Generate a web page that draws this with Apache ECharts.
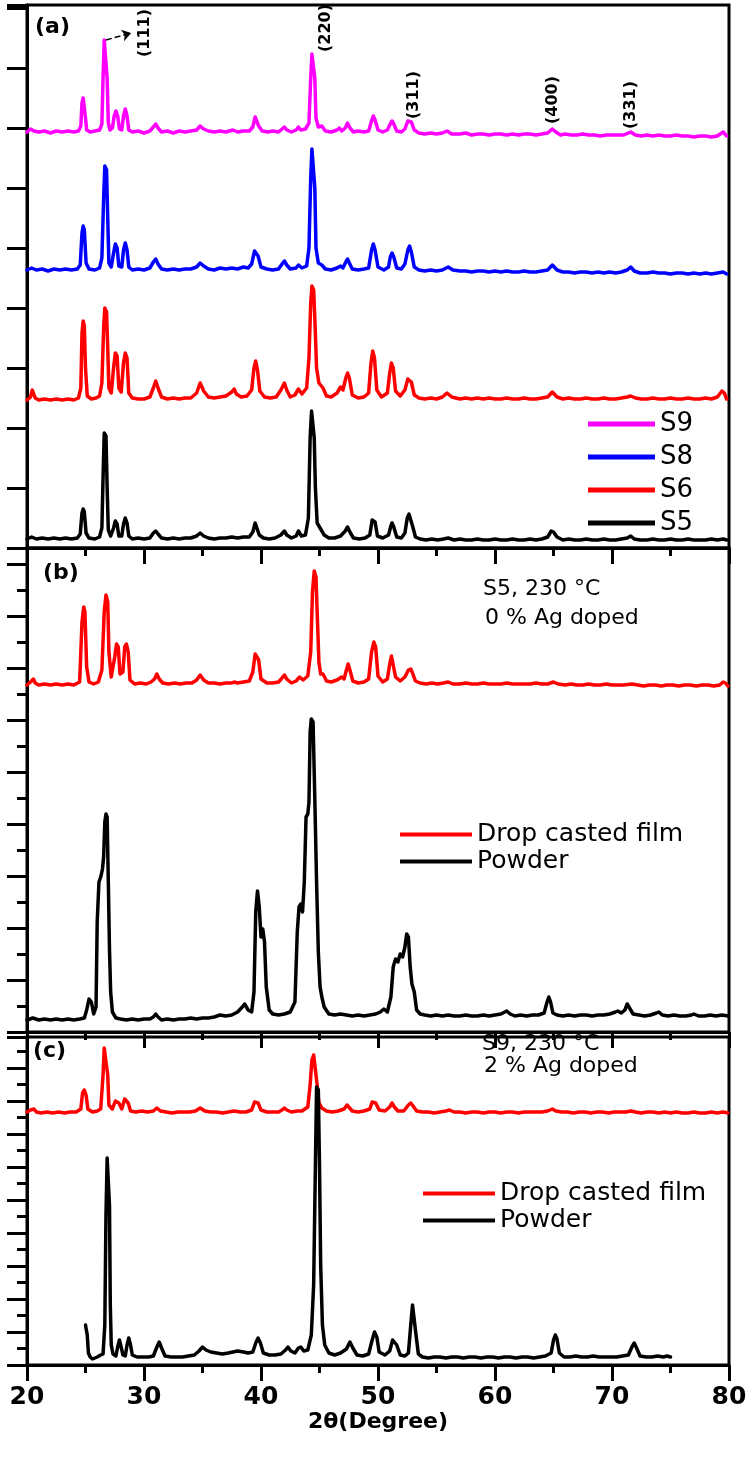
<!DOCTYPE html>
<html>
<head>
<meta charset="utf-8">
<script src="https://cdn.jsdelivr.net/npm/echarts@6/dist/echarts.min.js"></script>
<style>html,body{margin:0;padding:0;background:#fff}#c{width:750px;height:1469px}</style>
</head>
<body>
<div id="c"></div>
<script>
// ---- data (2θ in degrees, intensity in arbitrary units, per panel) ----
const xTicks = [20, 30, 40, 50, 60, 70, 80];
const seriesNamesA = ['S9', 'S8', 'S6', 'S5'];
const seriesNamesBC = ['Drop casted film', 'Powder'];
const peakIndices = ['(111)', '(220)', '(311)', '(400)', '(331)'];

const S9 = [[20.0,416],[20.3,419],[20.6,417],[21.0,416],[21.5,417],[22.0,415],[22.5,417],[23.0,416],[23.5,417],[24.0,416],[24.4,417],[24.6,422],[24.7,445],[24.8,450],[24.9,448],[25.0,430],[25.1,418],[25.4,416],[25.8,417],[26.2,418],[26.4,424],[26.5,470],[26.6,508],[26.75,506],[26.85,470],[26.95,425],[27.1,418],[27.3,420],[27.45,432],[27.6,437],[27.75,432],[27.9,419],[28.1,418],[28.25,432],[28.4,439],[28.55,432],[28.7,418],[29.0,416],[29.5,417],[30.0,415],[30.5,417],[30.8,421],[31.0,424],[31.2,420],[31.5,416],[32.0,417],[32.5,415],[33.0,417],[33.5,416],[34.0,417],[34.5,418],[34.8,422],[35.1,419],[35.5,417],[36.0,416],[36.5,417],[37.0,416],[37.6,418],[38.0,416],[38.5,417],[39.0,417],[39.3,421],[39.5,431],[39.65,432],[39.8,422],[40.1,417],[40.6,416],[41.0,417],[41.5,416],[41.8,419],[42.0,421],[42.2,418],[42.6,416],[43.0,418],[43.2,421],[43.4,418],[43.8,419],[44.1,425],[44.25,470],[44.35,494],[44.5,493],[44.6,470],[44.7,430],[44.9,421],[45.2,422],[45.5,417],[46.0,416],[46.5,418],[46.7,420],[46.9,417],[47.2,420],[47.4,425],[47.6,420],[47.9,416],[48.3,417],[48.8,416],[49.2,417],[49.45,427],[49.6,432],[49.75,428],[50.0,418],[50.4,416],[50.8,418],[51.05,424],[51.2,427],[51.35,424],[51.6,417],[52.0,416],[52.3,419],[52.55,427],[52.7,429],[52.85,426],[53.1,418],[53.5,415],[54.0,414],[54.5,415],[55.0,414],[55.5,415],[55.9,417],[56.3,414],[57.0,414],[57.5,415],[58.0,413],[58.5,414],[59.0,414],[59.5,413],[60.0,414],[60.5,414],[61.0,413],[61.5,414],[62.0,413],[62.5,414],[63.0,414],[63.5,413],[64.0,414],[64.5,415],[64.9,419],[65.2,416],[65.6,413],[66.0,414],[66.5,413],[67.0,413],[67.5,414],[68.0,413],[68.5,413],[69.0,412],[69.5,413],[70.0,413],[70.5,413],[71.0,413],[71.6,416],[72.0,413],[72.5,412],[73.0,413],[73.5,412],[74.0,413],[74.5,412],[75.0,412],[75.5,413],[76.0,412],[76.5,412],[77.0,411],[77.5,412],[78.0,412],[78.5,411],[79.0,412],[79.5,416],[79.8,412]];

const S8 = [[20.0,278],[20.4,280],[20.8,278],[21.3,279],[21.8,277],[22.3,279],[22.8,278],[23.3,279],[23.8,278],[24.3,279],[24.55,283],[24.7,315],[24.8,322],[24.9,318],[25.05,285],[25.3,279],[25.8,278],[26.2,280],[26.4,290],[26.55,350],[26.65,382],[26.8,378],[26.9,330],[27.0,285],[27.2,281],[27.4,295],[27.55,304],[27.7,300],[27.85,282],[28.1,281],[28.25,298],[28.4,305],[28.55,298],[28.7,281],[29.0,278],[29.5,279],[30.0,278],[30.5,280],[30.8,286],[31.0,289],[31.2,284],[31.5,279],[32.0,278],[32.5,279],[33.0,278],[33.5,279],[34.0,279],[34.5,281],[34.8,285],[35.1,282],[35.5,279],[36.0,278],[36.5,280],[37.0,279],[37.5,280],[38.0,279],[38.5,281],[38.9,280],[39.2,284],[39.45,297],[39.6,299],[39.75,292],[40.0,281],[40.5,279],[41.0,278],[41.5,279],[41.8,284],[42.0,287],[42.2,283],[42.5,279],[43.0,280],[43.2,283],[43.5,280],[43.9,282],[44.1,300],[44.25,370],[44.35,399],[44.5,397],[44.6,360],[44.7,300],[44.9,285],[45.2,283],[45.5,279],[46.0,278],[46.5,280],[46.8,282],[47.0,280],[47.25,286],[47.4,289],[47.55,285],[47.8,279],[48.3,278],[48.8,279],[49.2,280],[49.45,298],[49.6,304],[49.75,298],[50.0,281],[50.5,278],[50.9,281],[51.05,291],[51.2,295],[51.35,291],[51.6,280],[52.0,279],[52.3,284],[52.55,298],[52.7,302],[52.85,296],[53.1,281],[53.5,278],[54.0,277],[54.5,278],[55.0,277],[55.5,278],[56.0,281],[56.4,278],[57.0,277],[57.5,277],[58.0,276],[58.5,277],[59.0,277],[59.5,276],[60.0,277],[60.5,276],[61.0,277],[61.5,276],[62.0,276],[62.5,277],[63.0,276],[63.5,276],[64.0,277],[64.5,278],[64.9,283],[65.3,278],[65.8,276],[66.3,276],[66.8,275],[67.3,276],[67.8,276],[68.3,275],[68.8,276],[69.3,275],[69.8,276],[70.3,275],[70.8,276],[71.3,278],[71.6,281],[71.9,277],[72.4,275],[73.0,275],[73.5,276],[74.0,275],[74.5,275],[75.0,274],[75.5,275],[76.0,275],[76.5,274],[77.0,275],[77.5,274],[78.0,275],[78.5,274],[79.0,275],[79.5,276],[79.8,274]];

const S6 = [[20.0,148],[20.3,151],[20.45,158],[20.55,159],[20.7,150],[21.0,148],[21.5,149],[22.0,148],[22.5,149],[23.0,148],[23.5,149],[24.0,148],[24.4,150],[24.6,160],[24.7,215],[24.8,227],[24.9,222],[25.0,180],[25.15,152],[25.5,149],[25.9,150],[26.2,152],[26.4,165],[26.55,220],[26.65,240],[26.8,236],[26.9,200],[27.0,160],[27.2,155],[27.4,180],[27.55,195],[27.7,192],[27.85,160],[28.05,156],[28.25,185],[28.4,195],[28.55,190],[28.7,155],[29.0,150],[29.5,149],[30.0,149],[30.5,151],[30.8,160],[31.0,167],[31.2,160],[31.5,151],[32.0,149],[32.5,150],[33.0,149],[33.5,150],[34.0,150],[34.5,155],[34.8,165],[35.1,157],[35.5,151],[36.0,150],[36.5,151],[37.0,152],[37.5,156],[37.7,159],[37.9,154],[38.3,151],[38.8,152],[39.2,158],[39.4,180],[39.55,187],[39.7,178],[39.9,157],[40.3,151],[40.8,150],[41.3,151],[41.7,158],[42.0,165],[42.2,158],[42.5,151],[42.9,153],[43.2,159],[43.5,154],[43.9,160],[44.1,190],[44.25,245],[44.35,262],[44.5,258],[44.6,230],[44.75,180],[44.95,165],[45.1,167],[45.3,160],[45.6,152],[46.0,151],[46.5,155],[46.8,161],[47.0,158],[47.25,170],[47.4,175],[47.55,170],[47.8,153],[48.3,150],[48.8,151],[49.2,155],[49.4,185],[49.55,197],[49.7,190],[49.9,158],[50.3,151],[50.8,155],[51.0,175],[51.15,185],[51.3,180],[51.5,157],[51.9,152],[52.3,158],[52.55,169],[52.7,171],[52.85,166],[53.1,153],[53.5,150],[54.0,149],[54.5,150],[55.0,149],[55.5,151],[55.9,155],[56.3,151],[57.0,149],[57.5,150],[58.0,149],[58.5,150],[59.0,149],[59.5,150],[60.0,149],[60.5,149],[61.0,150],[61.5,149],[62.0,149],[62.5,150],[63.0,149],[63.5,149],[64.0,150],[64.5,151],[64.9,156],[65.3,151],[65.8,149],[66.3,150],[66.8,149],[67.3,149],[67.8,150],[68.3,149],[68.8,149],[69.3,150],[69.8,149],[70.3,149],[70.8,150],[71.3,151],[71.6,152],[72.0,150],[72.5,149],[73.0,149],[73.5,150],[74.0,149],[74.5,149],[75.0,150],[75.5,149],[76.0,149],[76.5,150],[77.0,149],[77.5,149],[78.0,150],[78.5,149],[79.0,151],[79.4,157],[79.6,155],[79.8,149]];

const S5 = [[20.0,9],[20.4,11],[20.8,9],[21.3,10],[21.8,9],[22.3,10],[22.8,9],[23.3,10],[23.8,9],[24.3,10],[24.55,14],[24.7,35],[24.8,39],[24.9,36],[25.05,15],[25.3,10],[25.8,9],[26.2,11],[26.4,20],[26.5,70],[26.6,115],[26.75,112],[26.85,60],[26.95,18],[27.15,12],[27.4,20],[27.55,27],[27.7,24],[27.85,12],[28.1,12],[28.25,24],[28.4,30],[28.55,25],[28.7,12],[29.0,9],[29.5,10],[30.0,9],[30.5,10],[30.8,15],[31.0,17],[31.2,14],[31.5,10],[32.0,9],[32.5,10],[33.0,9],[33.5,10],[34.0,10],[34.5,12],[34.8,15],[35.1,12],[35.5,10],[36.0,9],[36.5,10],[37.0,10],[37.5,11],[38.0,10],[38.5,11],[39.0,11],[39.3,16],[39.5,25],[39.65,24],[39.85,13],[40.2,10],[40.7,9],[41.2,10],[41.7,13],[42.0,17],[42.2,13],[42.6,10],[43.0,12],[43.2,17],[43.45,12],[43.8,13],[44.05,30],[44.2,110],[44.32,137],[44.45,135],[44.55,110],[44.65,60],[44.8,25],[45.1,19],[45.4,13],[45.8,10],[46.3,10],[46.8,12],[47.2,17],[47.4,21],[47.6,16],[47.9,10],[48.4,9],[48.9,10],[49.3,13],[49.5,28],[49.6,30],[49.75,26],[49.95,12],[50.4,10],[50.9,13],[51.1,22],[51.2,25],[51.35,21],[51.6,11],[52.0,10],[52.3,15],[52.5,30],[52.65,34],[52.8,32],[53.0,20],[53.2,11],[53.6,9],[54.1,8],[54.6,9],[55.1,8],[55.6,9],[56.0,10],[56.5,8],[57.0,9],[57.5,8],[58.0,8],[58.5,9],[59.0,8],[59.5,8],[60.0,9],[60.5,8],[61.0,8],[61.5,9],[62.0,8],[62.5,8],[63.0,9],[63.5,8],[64.0,9],[64.5,11],[64.8,17],[65.0,16],[65.3,11],[65.8,8],[66.3,9],[66.8,8],[67.3,8],[67.8,9],[68.3,8],[68.8,8],[69.3,9],[69.8,8],[70.3,8],[70.8,9],[71.3,10],[71.6,12],[71.9,9],[72.4,8],[73.0,8],[73.5,9],[74.0,8],[74.5,8],[75.0,9],[75.5,8],[76.0,8],[76.5,9],[77.0,8],[77.5,8],[78.0,8],[78.5,9],[79.0,8],[79.5,9],[79.8,8]];

const filmB = [[20.0,347],[20.3,350],[20.45,352],[20.55,353],[20.7,349],[21.0,347],[21.5,348],[22.0,347],[22.5,348],[23.0,347],[23.5,348],[24.0,347],[24.5,350],[24.7,410],[24.85,425],[24.95,420],[25.1,365],[25.3,350],[25.7,348],[26.1,350],[26.4,362],[26.6,420],[26.75,437],[26.9,430],[27.0,380],[27.2,355],[27.5,375],[27.65,388],[27.8,385],[27.95,358],[28.2,360],[28.35,385],[28.5,388],[28.65,380],[28.8,352],[29.2,348],[29.7,349],[30.2,348],[30.6,350],[30.9,353],[31.1,358],[31.3,353],[31.6,349],[32.1,348],[32.6,349],[33.1,348],[33.6,349],[34.1,349],[34.5,352],[34.8,357],[35.1,352],[35.5,349],[36.0,349],[36.5,348],[37.0,349],[37.5,349],[37.7,350],[38.0,349],[38.5,350],[39.0,351],[39.3,360],[39.5,378],[39.65,380],[39.8,372],[40.0,353],[40.5,349],[41.0,349],[41.5,350],[41.8,354],[42.0,357],[42.2,353],[42.6,349],[43.0,351],[43.3,355],[43.6,352],[44.0,356],[44.25,380],[44.4,440],[44.55,461],[44.7,455],[44.8,420],[44.95,370],[45.1,358],[45.3,358],[45.6,351],[46.0,350],[46.5,352],[46.9,355],[47.1,353],[47.3,362],[47.45,368],[47.6,362],[47.85,351],[48.3,349],[48.8,350],[49.2,353],[49.45,380],[49.65,390],[49.8,385],[50.0,356],[50.4,350],[50.8,353],[51.0,368],[51.15,376],[51.3,374],[51.5,355],[51.9,351],[52.3,355],[52.6,362],[52.8,363],[52.95,359],[53.2,351],[53.6,349],[54.1,348],[54.6,349],[55.1,348],[55.6,349],[56.0,350],[56.4,348],[57.0,348],[57.5,349],[58.0,348],[58.5,348],[59.0,349],[59.5,348],[60.0,348],[60.5,348],[61.0,349],[61.5,348],[62.0,348],[62.5,348],[63.0,348],[63.5,349],[64.0,348],[64.5,348],[65.0,350],[65.4,348],[66.0,347],[66.5,348],[67.0,347],[67.5,347],[68.0,348],[68.5,347],[69.0,347],[69.5,348],[70.0,347],[70.5,347],[71.0,347],[71.7,348],[72.2,347],[72.7,346],[73.2,347],[73.7,347],[74.2,346],[74.7,347],[75.2,347],[75.7,346],[76.2,347],[76.7,347],[77.2,346],[77.7,347],[78.2,347],[78.7,346],[79.2,347],[79.5,350],[79.7,349],[79.9,346]];

const powderB = [[20.0,12],[20.5,14],[21.0,12],[21.5,13],[22.0,12],[22.5,13],[23.0,12],[23.5,13],[24.0,12],[24.5,13],[24.9,14],[25.1,22],[25.3,33],[25.5,30],[25.7,18],[25.9,25],[26.0,110],[26.15,150],[26.3,155],[26.45,163],[26.55,175],[26.65,210],[26.75,218],[26.85,215],[26.95,150],[27.05,83],[27.15,40],[27.3,20],[27.6,14],[28.0,13],[28.5,12],[29.0,13],[29.5,12],[30.0,13],[30.5,13],[30.8,15],[31.0,18],[31.2,15],[31.5,12],[32.0,13],[32.5,12],[33.0,13],[33.5,13],[34.0,14],[34.5,13],[35.0,14],[35.5,14],[36.0,15],[36.5,17],[37.0,16],[37.5,17],[38.0,20],[38.4,25],[38.6,28],[38.9,22],[39.2,20],[39.4,40],[39.55,120],[39.7,141],[39.85,125],[40.0,95],[40.15,103],[40.3,90],[40.45,45],[40.7,22],[41.0,18],[41.5,17],[42.0,18],[42.5,20],[42.9,30],[43.1,100],[43.25,125],[43.4,128],[43.55,120],[43.7,150],[43.85,215],[44.0,218],[44.1,230],[44.2,300],[44.3,313],[44.45,310],[44.6,233],[44.75,150],[44.9,80],[45.05,45],[45.2,35],[45.4,25],[45.8,18],[46.3,17],[46.8,18],[47.3,17],[47.8,16],[48.3,17],[48.8,16],[49.3,17],[49.8,18],[50.2,20],[50.5,23],[50.8,20],[51.1,35],[51.3,65],[51.5,73],[51.7,70],[51.9,78],[52.1,75],[52.3,85],[52.45,98],[52.6,95],[52.75,65],[52.9,48],[53.1,40],[53.3,22],[53.6,18],[54.0,17],[54.5,16],[55.0,17],[55.5,16],[56.0,17],[56.5,16],[57.0,16],[57.5,17],[58.0,16],[58.5,16],[59.0,17],[59.5,16],[60.0,17],[60.5,18],[61.0,21],[61.3,18],[61.7,16],[62.2,17],[62.7,16],[63.2,17],[63.7,17],[64.2,19],[64.45,30],[64.6,35],[64.75,30],[64.95,19],[65.3,17],[65.8,16],[66.3,17],[66.8,16],[67.3,17],[67.8,17],[68.3,16],[68.8,17],[69.3,17],[69.8,18],[70.3,20],[70.5,21],[70.8,19],[71.1,22],[71.3,28],[71.5,24],[71.8,18],[72.3,17],[72.8,16],[73.3,17],[73.8,19],[74.0,20],[74.3,17],[74.8,16],[75.3,17],[75.8,16],[76.3,16],[76.8,17],[77.0,18],[77.4,16],[77.9,16],[78.4,17],[78.9,16],[79.4,17],[79.9,16]];

const filmC = [[20.0,253],[20.3,255],[20.45,257],[20.6,256],[20.8,253],[21.2,252],[21.7,253],[22.2,252],[22.7,253],[23.2,252],[23.7,253],[24.2,253],[24.6,256],[24.75,272],[24.9,275],[25.05,270],[25.2,256],[25.6,253],[26.0,254],[26.3,256],[26.5,290],[26.6,317],[26.75,315],[26.9,290],[27.0,260],[27.3,256],[27.55,264],[27.7,265],[27.85,262],[28.1,256],[28.35,266],[28.5,267],[28.65,262],[28.85,254],[29.3,253],[29.8,254],[30.3,253],[30.8,254],[31.1,257],[31.4,254],[31.9,253],[32.4,252],[32.9,253],[33.4,253],[33.9,253],[34.4,254],[34.8,257],[35.2,254],[35.7,253],[36.2,253],[36.7,252],[37.2,253],[37.7,254],[38.2,253],[38.7,253],[39.2,255],[39.45,263],[39.6,265],[39.75,262],[40.0,255],[40.5,253],[41.0,253],[41.5,253],[41.8,255],[42.0,257],[42.2,255],[42.6,253],[43.1,254],[43.5,254],[44.0,258],[44.2,280],[44.35,305],[44.5,310],[44.65,308],[44.8,280],[44.95,262],[45.2,257],[45.6,254],[46.1,253],[46.6,254],[47.1,256],[47.35,260],[47.5,259],[47.8,254],[48.3,253],[48.8,254],[49.3,256],[49.5,263],[49.65,265],[49.8,262],[50.1,255],[50.6,254],[51.0,258],[51.2,262],[51.4,258],[51.7,254],[52.2,254],[52.6,260],[52.8,262],[53.0,259],[53.3,254],[53.8,253],[54.3,253],[54.8,252],[55.3,253],[55.8,254],[56.1,255],[56.5,253],[57.0,253],[57.5,252],[58.0,253],[58.5,253],[59.0,252],[59.5,253],[60.0,253],[60.5,252],[61.0,253],[61.5,253],[62.0,252],[62.5,253],[63.0,253],[63.5,253],[64.0,253],[64.5,254],[64.9,256],[65.2,254],[65.7,253],[66.2,253],[66.7,252],[67.2,253],[67.7,253],[68.2,252],[68.7,253],[69.2,253],[69.7,252],[70.2,253],[70.7,253],[71.2,253],[71.6,254],[72.0,253],[72.5,252],[73.0,253],[73.5,253],[74.0,252],[74.5,253],[75.0,252],[75.5,253],[76.0,252],[76.5,252],[77.0,253],[77.5,252],[78.0,252],[78.5,253],[79.0,252],[79.5,253],[79.9,252]];

const powderC = [[25.0,40],[25.05,38],[25.15,30],[25.25,12],[25.4,8],[25.6,6],[25.8,7],[26.0,8],[26.3,10],[26.5,11],[26.65,40],[26.75,150],[26.85,207],[26.95,205],[27.05,160],[27.12,60],[27.2,20],[27.35,11],[27.6,9],[27.75,18],[27.9,25],[28.05,18],[28.2,10],[28.4,9],[28.55,20],[28.7,27],[28.85,20],[29.0,10],[29.4,8],[29.9,8],[30.4,8],[30.8,9],[31.1,18],[31.3,23],[31.5,17],[31.8,9],[32.3,8],[32.8,8],[33.3,8],[33.8,9],[34.3,10],[34.7,14],[35.0,18],[35.3,15],[35.7,13],[36.2,12],[36.7,11],[37.2,12],[37.6,13],[38.0,14],[38.5,13],[38.9,12],[39.3,13],[39.55,22],[39.75,27],[39.95,22],[40.2,12],[40.7,10],[41.2,10],[41.7,11],[42.1,15],[42.3,18],[42.55,14],[42.9,12],[43.2,17],[43.4,18],[43.65,14],[44.0,15],[44.3,30],[44.5,80],[44.65,200],[44.75,278],[44.9,275],[45.0,200],[45.1,100],[45.25,40],[45.45,20],[45.8,12],[46.3,10],[46.8,12],[47.3,16],[47.6,23],[47.85,17],[48.2,10],[48.7,9],[49.2,11],[49.5,25],[49.7,33],[49.9,28],[50.1,13],[50.6,10],[51.0,14],[51.25,25],[51.4,27],[51.6,20],[51.9,10],[52.3,9],[52.6,12],[52.8,40],[52.95,60],[53.1,58],[53.25,30],[53.45,11],[53.8,8],[54.3,7],[54.8,8],[55.3,8],[55.8,7],[56.3,8],[56.8,8],[57.3,7],[57.8,8],[58.3,8],[58.8,7],[59.3,8],[59.8,8],[60.3,7],[60.8,8],[61.3,8],[61.8,7],[62.3,8],[62.8,8],[63.3,7],[63.8,8],[64.3,9],[64.8,12],[65.0,25],[65.15,30],[65.3,26],[65.5,12],[65.9,8],[66.4,8],[66.9,9],[67.4,8],[67.9,8],[68.4,9],[68.9,8],[69.4,8],[69.9,8],[70.4,8],[70.9,9],[71.4,10],[71.7,18],[71.9,22],[72.1,17],[72.4,9],[72.9,8],[73.4,8],[73.9,9],[74.4,8],[74.7,9],[75.0,8]];

// ---- chart ----
const chart = echarts.init(document.getElementById('c'), null, {renderer: 'canvas'});
const FONT = 'DejaVu Sans';
const black = '#000';

function xAx(gi, labels) {
  return {
    type: 'value', gridIndex: gi, min: xTicks[0], max: xTicks[xTicks.length - 1], interval: 10,
    axisLine: {show: true, onZero: false, lineStyle: {color: black, width: 3}},
    axisTick: {show: true, inside: false, length: 16, lineStyle: {color: black, width: 3}},
    minorTick: {show: true, splitNumber: 2, length: 8, lineStyle: {color: black, width: 3}},
    splitLine: {show: false},
    axisLabel: labels ? {show: true, color: black, fontFamily: FONT, fontWeight: 'bold', fontSize: 25, margin: 20} : {show: false},
    name: labels ? '2θ(Degree)' : '',
    nameLocation: 'middle', nameGap: 46,
    nameTextStyle: {color: black, fontFamily: FONT, fontWeight: 'bold', fontSize: 22}
  };
}
function yAx(gi, max, interval, minor) {
  return {
    type: 'value', gridIndex: gi, min: 0, max: max, interval: interval,
    axisLine: {show: true, onZero: false, lineStyle: {color: black, width: 3}},
    axisTick: {show: true, inside: false, length: 20, lineStyle: {color: black, width: 3}},
    minorTick: {show: !!minor, splitNumber: 2, length: 10, lineStyle: {color: black, width: 3}},
    splitLine: {show: false},
    axisLabel: {show: false}
  };
}
function line(name, data, color, xi, z) {
  return {
    type: 'line', name: name, data: data, xAxisIndex: xi, yAxisIndex: xi,
    showSymbol: false, symbol: 'none', z: z || 2,
    lineStyle: {color: color, width: 3.5, join: 'round', cap: 'round'}, itemStyle: {color: color},
    emphasis: {disabled: true}
  };
}

const s9 = line(seriesNamesA[0], S9, '#ff00ff', 0, 5);
s9.markLine = {
  silent: true, symbol: ['none', 'arrow'], symbolSize: 9,
  lineStyle: {color: black, type: 'dashed', width: 1.5},
  label: {show: false},
  data: [[{coord: [26.75, 508]}, {coord: [28.9, 515]}]]
};

const legendText = {color: black, fontFamily: FONT};
const peakFont = 'bold 16px "DejaVu Sans"';
const option = {
  animation: false,
  backgroundColor: '#fff',
  grid: [
    {left: 27, right: 21, top: 5, height: 543, show: true, borderColor: black, borderWidth: 3, backgroundColor: 'transparent'},
    {left: 27, right: 21, top: 548, height: 484, show: true, borderColor: black, borderWidth: 3, backgroundColor: 'transparent'},
    {left: 27, right: 21, top: 1037, height: 328, show: true, borderColor: black, borderWidth: 3, backgroundColor: 'transparent'}
  ],
  xAxis: [xAx(0, false), xAx(1, false), xAx(2, true)],
  yAxis: [yAx(0, 543, 60, false), yAx(1, 484, 52, true), yAx(2, 328, 33, true)],
  legend: [
    {data: seriesNamesA, orient: 'vertical', left: 583, top: 406, itemWidth: 67, itemHeight: 5, itemGap: 7, icon: 'rect',
     selectedMode: false, textStyle: Object.assign({fontSize: 26, lineHeight: 26}, legendText)},
    {data: seriesNamesBC, orient: 'vertical', left: 395, top: 817, itemWidth: 72, itemHeight: 4, itemGap: 2, icon: 'rect',
     selectedMode: false, textStyle: Object.assign({fontSize: 25, lineHeight: 25}, legendText)},
    {data: seriesNamesBC, orient: 'vertical', left: 418, top: 1176, itemWidth: 72, itemHeight: 4, itemGap: 2, icon: 'rect',
     selectedMode: false, textStyle: Object.assign({fontSize: 25, lineHeight: 25}, legendText)}
  ],
  series: [
    line(seriesNamesA[3], S5, black, 0, 2),
    line(seriesNamesA[2], S6, '#ff0000', 0, 3),
    line(seriesNamesA[1], S8, '#0000ff', 0, 4),
    s9,
    line(seriesNamesBC[1], powderB, black, 1, 2),
    line(seriesNamesBC[0], filmB, '#ff0000', 1, 3),
    line(seriesNamesBC[0], filmC, '#ff0000', 2, 2),
    line(seriesNamesBC[1], powderC, black, 2, 3)
  ],
  graphic: [
    {type: 'text', left: 35, top: 16, z: 10, style: {text: '(a)', fill: black, font: 'bold 22px "DejaVu Sans"'}},
    {type: 'text', left: 43, top: 562, z: 10, style: {text: '(b)', fill: black, font: 'bold 22px "DejaVu Sans"'}},
    {type: 'text', left: 33, top: 1040, z: 10, style: {text: '(c)', fill: black, font: 'bold 22px "DejaVu Sans"'}},
    {type: 'text', left: 483, top: 578, z: 10, style: {text: 'S5, 230 °C', fill: black, font: '22px "DejaVu Sans"'}},
    {type: 'text', left: 485, top: 607, z: 10, style: {text: '0 % Ag doped', fill: black, font: '22px "DejaVu Sans"'}},
    {type: 'text', left: 482, top: 1033, z: 1, style: {text: 'S9, 230 °C', fill: black, font: '22px "DejaVu Sans"'}},
    {type: 'text', left: 484, top: 1055, z: 10, style: {text: '2 % Ag doped', fill: black, font: '22px "DejaVu Sans"'}},
    {type: 'text', x: 145, y: 33, rotation: Math.PI / 2, z: 10, style: {text: peakIndices[0], fill: black, font: peakFont, align: 'center', verticalAlign: 'middle'}},
    {type: 'text', x: 326, y: 28, rotation: Math.PI / 2, z: 10, style: {text: peakIndices[1], fill: black, font: peakFont, align: 'center', verticalAlign: 'middle'}},
    {type: 'text', x: 414, y: 95, rotation: Math.PI / 2, z: 10, style: {text: peakIndices[2], fill: black, font: peakFont, align: 'center', verticalAlign: 'middle'}},
    {type: 'text', x: 553, y: 100, rotation: Math.PI / 2, z: 10, style: {text: peakIndices[3], fill: black, font: peakFont, align: 'center', verticalAlign: 'middle'}},
    {type: 'text', x: 631, y: 105, rotation: Math.PI / 2, z: 10, style: {text: peakIndices[4], fill: black, font: peakFont, align: 'center', verticalAlign: 'middle'}}
  ]
};
chart.setOption(option);
</script>
</body>
</html>
